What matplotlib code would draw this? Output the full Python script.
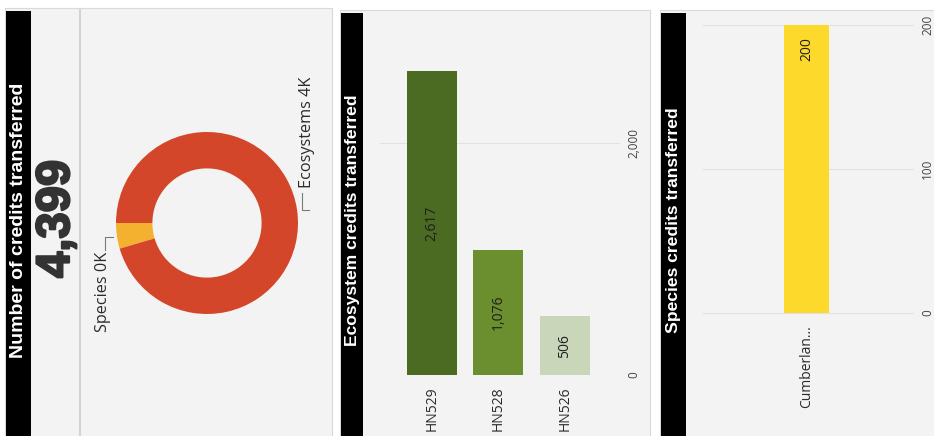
import matplotlib.pyplot as plt
import matplotlib.patheffects as pe
from matplotlib.patches import Rectangle

W, H = 934, 436

total_credits = 4399
donut_labels = ["Species 0K", "Ecosystems 4K"]
donut_values = [200, 4199]
donut_colors = ["#f4b02f", "#d4462a"]

eco_sites = ["HN529", "HN528", "HN526"]
eco_credits = [2617, 1076, 506]
eco_colors = ["#4b6a22", "#6b8f2f", "#c9d6ba"]
eco_ticks = [0, 2000]

species_names = ["Cumberlan..."]
species_credits = [200]
species_ticks = [0, 100, 200]

plt.rcParams['font.family'] = ['Liberation Sans', 'DejaVu Sans']
LABEL_FONT = ['Open Sans', 'DejaVu Sans']

fig = plt.figure(figsize=(W / 100, H / 100), dpi=100)
fig.patch.set_facecolor('white')


def box(x0, y0, x1, y1):
    # pixel box measured from the top-left corner -> figure fractions
    return [x0 / W, 1 - y1 / H, (x1 - x0) / W, (y1 - y0) / H]


def rect(x0, y0, x1, y1, **kw):
    l, b, w, h = box(x0, y0, x1, y1)
    fig.patches.append(Rectangle((l, b), w, h, transform=fig.transFigure, zorder=-5, **kw))


def card(x0, x1, band_x1, top, title, size):
    rect(x0, top, x1, H + 2, facecolor='#f3f3f3', edgecolor='#d9d9d9', lw=0.8)
    rect(x0 + 1, top + 3, band_x1, H + 2, facecolor='black', edgecolor='none')
    fig.text((x0 + 1 + band_x1) / 2 / W, 1 - 220 / H, title, rotation=90,
             ha='center', va='center', color='white', weight='bold', fontsize=size)


def style_bar_axes(ax, ypad):
    ax.yaxis.tick_right()
    ax.tick_params(axis='x', length=0, pad=8.5)
    ax.tick_params(axis='y', length=0, pad=ypad)
    for t in ax.get_yticklabels():
        t.set_verticalalignment('center')
    ax.yaxis.grid(True, color='#e2e2e2', lw=0.8)
    ax.set_axisbelow(True)
    ax.patch.set_visible(False)
    for s in ax.spines.values():
        s.set_visible(False)


# card 1: total + donut
card(5, 332, 31, 8, "Number of credits transferred", 14)
rect(79, 9, 80.5, H, facecolor='#d2d2d2', edgecolor='none')
fig.text(57 / W, 1 - 219 / H, f"{total_credits:,}", rotation=90, ha='center', va='center',
         color='#333333', weight='bold', fontsize=34,
         path_effects=[pe.withStroke(linewidth=1.6, foreground='#333333')])

ax = fig.add_axes(box(116, 132, 298, 314))
ax.pie(donut_values, colors=donut_colors, startangle=180, counterclock=True,
       wedgeprops=dict(width=0.4, edgecolor='none'))
ax.set_xlim(-1, 1)
ax.set_ylim(-1, 1)
ax.set_aspect('equal')
ax.axis('off')
ax.text(-1.143, -0.32, donut_labels[0], rotation=90, ha='center', va='top',
        fontsize=11.7, color='#2b2b2b', family=LABEL_FONT)
ax.plot([-1.03, -1.12, -1.12], [-0.154, -0.154, -0.297], color='#7a7a7a', lw=0.8, clip_on=False)
ax.text(1.099, 0.385, donut_labels[1], rotation=90, ha='center', va='bottom',
        fontsize=11.7, color='#2b2b2b', family=LABEL_FONT)
ax.plot([1.12, 1.044, 1.044], [0.143, 0.143, 0.33], color='#7a7a7a', lw=0.8, clip_on=False)

# card 2: ecosystem credits by site
card(340, 650, 363, 10, "Ecosystem credits transferred", 12.6)
ax = fig.add_axes(box(380, 38.6, 620, 375))
bars = ax.bar(range(len(eco_sites)), eco_credits, width=0.75, color=eco_colors, zorder=2)
ax.bar_label(bars, labels=[f"{v:,}" for v in eco_credits], label_type='center',
             rotation=90, fontsize=10, color='#1e1e1e', family=LABEL_FONT)
ax.set_xlim(-0.78, 2.83)
ax.set_ylim(0, 2900)
ax.set_xticks(range(len(eco_sites)))
ax.set_xticklabels(eco_sites, rotation=90, fontsize=10, color='#2b2b2b', family=LABEL_FONT)
ax.set_yticks(eco_ticks)
ax.set_yticklabels([f"{v:,}" for v in eco_ticks], rotation=90, fontsize=8.5,
                   color='#444444', family=LABEL_FONT)
style_bar_axes(ax, 5.0)

# card 3: species credits
card(660, 940, 686, 10, "Species credits transferred", 12.6)
ax = fig.add_axes(box(703, 25, 913, 313))
ax.bar(range(len(species_names)), species_credits, width=0.75, color='#fcd92a', zorder=2)
for i, v in enumerate(species_credits):
    ax.annotate(f"{v:,}", (i, v), xytext=(0, -8.5), textcoords='offset points',
                ha='center', va='top', rotation=90, fontsize=10, color='#1e1e1e',
                family=LABEL_FONT)
ax.set_xlim(-1.733, 1.767)
ax.set_ylim(0, 200)
ax.set_xticks(range(len(species_names)))
ax.set_xticklabels(species_names, rotation=90, fontsize=10, color='#2b2b2b', family=LABEL_FONT)
ax.set_yticks(species_ticks)
ax.set_yticklabels([str(v) for v in species_ticks], rotation=90, fontsize=8.5,
                   color='#444444', family=LABEL_FONT)
style_bar_axes(ax, 6.0)
for gl in ax.get_ygridlines():
    gl.set_clip_on(False)

fig.savefig('out.png', dpi=100, facecolor='white')
